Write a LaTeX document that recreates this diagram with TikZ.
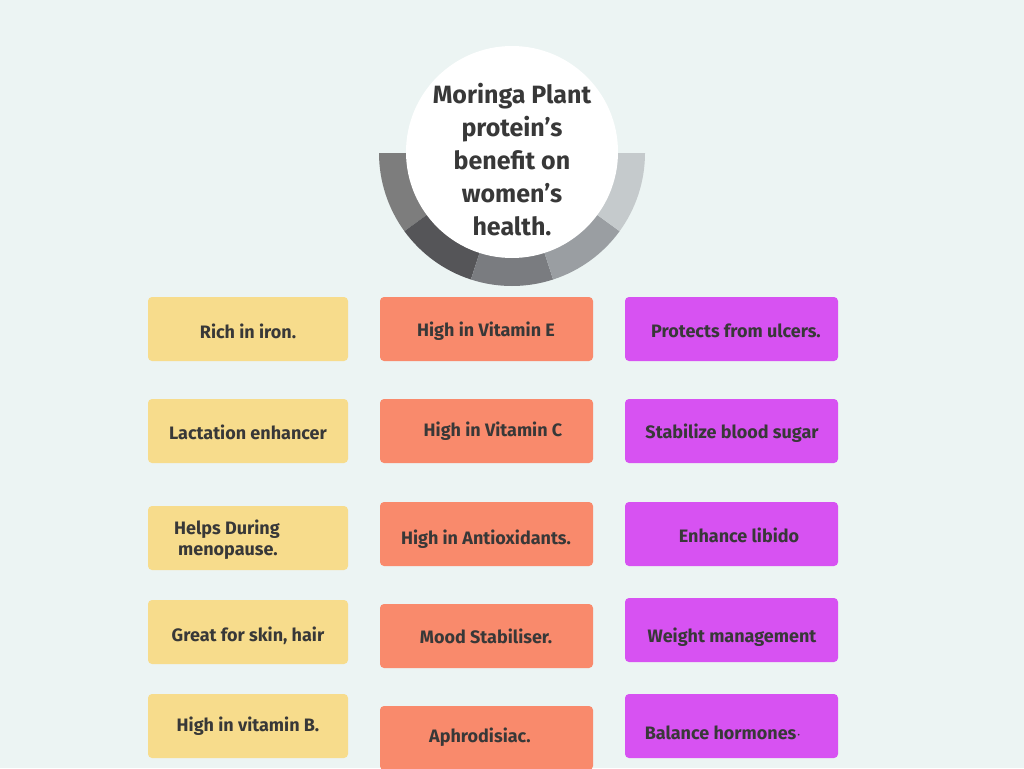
\documentclass[tikz,border=0pt]{standalone}
\usepackage{fontspec}
\setmainfont{Fira Sans}
\begin{document}
\begin{tikzpicture}[x=1pt,y=-1pt,
 box/.style={rounded corners=4pt},
 txt/.style={font=\bfseries\fontsize{18}{21}\selectfont,text=black!78,align=left,inner sep=0pt}]
\useasboundingbox (0,0) rectangle (1024,768);
\fill[fill={rgb,255:red,236;green,244;blue,243}] (0,0) rectangle (1024,768);
% ring
\def\ro{133}\def\ri{90}
\foreach \a/\c in {180/7d7d7d,144/555558,108/7a7c80,72/9a9ea2,36/c5cacc}{
 \definecolor{seg}{HTML}{\c}
 \fill[seg] (512,153) ++(\a:\ro) arc[start angle=\a,end angle=\a-36,radius=\ro] -- ++(\a-36:-43) arc[start angle=\a-36,end angle=\a,radius=\ri] -- cycle;
}
\fill[white] (512,152) circle[radius=106];
\node[txt,align=center,font=\bfseries\fontsize{25}{33}\selectfont] (title) at (512,160) {Moringa Plant\\protein's\\benefit on\\women’s\\health.};
\definecolor{yel}{HTML}{F7DC8C}\definecolor{sal}{HTML}{F98A6C}\definecolor{pur}{HTML}{D752F2}
\foreach \n/\y in {a1/297,a2/399,a3/506,a4/600,a5/694}
 \fill[yel,box] (148,\y) rectangle (348,\y+64) coordinate (\n);
\foreach \n/\y in {b1/297,b2/399,b3/502,b4/604,b5/706}
 \fill[sal,box] (380,\y) rectangle (593,\y+64) coordinate (\n);
\foreach \n/\y in {c1/297,c2/399,c3/502,c4/598,c5/694}
 \fill[pur,box] (625,\y) rectangle (838,\y+64) coordinate (\n);
\node[txt] (t1) at (248,331) {Rich in iron.};
\node[txt] (t2) at (248,432) {Lactation enhancer};
\node[txt,anchor=west] (t3) at (174,540) {Helps During\\\hspace*{4pt}menopause.};
\node[txt] (t4) at (248,636) {Great for skin, hair};
\node[txt] (t5) at (248,726) {High in vitamin B.};
\node[txt] (u1) at (486,331) {High in Vitamin E};
\node[txt] (u2) at (493,431) {High in Vitamin C};
\node[txt] (u3) at (486,539) {High in Antioxidants.};
\node[txt] (u4) at (486,636) {Mood Stabiliser.};
\node[txt] (u5) at (480,737) {Aphrodisiac.};
\node[txt] (v1) at (736,331) {Protects from ulcers.};
\node[txt] (v2) at (732,433) {Stabilize blood sugar};
\node[txt] (v3) at (739,535) {Enhance libido};
\node[txt] (v4) at (732,637) {Weight management};
\node[txt] (v5) at (723,733) {Balance hormones$\cdot$};
\end{tikzpicture}
\end{document}
